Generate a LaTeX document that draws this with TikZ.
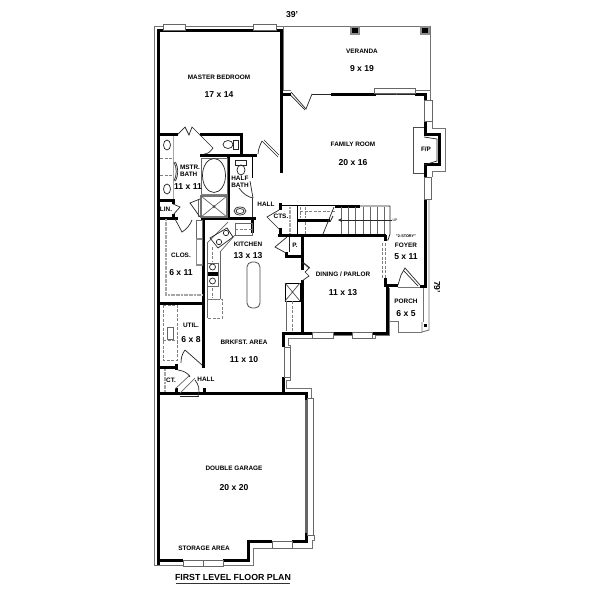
\documentclass[tikz,border=0pt]{standalone}
\usepackage{fontspec}
\setmainfont{Liberation Sans}
\begin{document}
\begin{tikzpicture}[x=1pt,y=-1pt,line join=miter,
  wall/.style={line width=3pt,black,line cap=butt},
  ext/.style={line width=0.9pt,black!55},
  thin/.style={line width=0.7pt,black!85},
  fix/.style={line width=0.7pt,black!60},
  dsh/.style={line width=0.8pt,black!50,dash pattern=on 3pt off 1.5pt},
  gdsh/.style={line width=1.6pt,black!35,dash pattern=on 2pt off 0.6pt},
  win/.style={draw=black!60,line width=0.8pt,fill=white},
  lab/.style={font=\bfseries\fontsize{6.4}{7}\selectfont,inner sep=0pt,align=center,black},
  dim/.style={font=\bfseries\fontsize{8.6}{10}\selectfont,inner sep=0pt,black}]
\useasboundingbox (0,0) rectangle (600,600);
\fill[white] (0,0) rectangle (600,600);
% exterior gray outline
\draw[ext] (183,565) -- (154,565) -- (154,26) -- (430,26) -- (430,100);
\draw[ext] (283.5,27) -- (283.5,90) -- (291,90);
\draw[ext] (415,90) -- (430,90);
\draw[ext] (432,121) -- (432,128) -- (445,128) -- (445,171) -- (432,171) -- (432,177);
\draw[ext] (431,199) -- (429,199) -- (429,330) -- (422,332) -- (422,322);
\draw[ext] (223,565) -- (253,565) -- (253,548) -- (272,548);
\draw[ext] (292,548) -- (312,548) -- (312,540) -- (314,540) -- (314,535);
\draw[ext] (306,398) -- (311,398) -- (311,388) -- (286,388) -- (286,380) -- (290,380) -- (290,345) -- (288,345) -- (288,338) -- (312,338);
\draw[ext] (333,338) -- (333,335) -- (352,335) -- (352,338);
\draw[ext] (372,338) -- (375,338) -- (375,335) -- (389,335) -- (389,321) -- (398,321) -- (398,332) -- (422,332);
\draw[ext] (389,321) -- (389,288);
\draw[ext] (398,287) -- (423,287) -- (423,322);
\fill[black] (424,323.5) rectangle (427,326.5);
% veranda columns
\foreach \cx in {355,425}{\fill[black!45] (\cx-5,26) rectangle (\cx+5,35);\fill[black] (\cx-3,28) rectangle (\cx+3,33);}
% main walls
\draw[wall] (158,565) -- (158,30) -- (281,30) -- (281,173);
\draw[wall] (281,94) -- (291,94);
\draw[thin] (312,94) -- (331,94);
\draw[wall] (331,94) -- (376,94);
\draw[thin] (376,94) -- (416,94);
\draw[wall] (415,94) -- (425,94) -- (425,100);
\draw[wall] (425,121) -- (425,134) -- (439.5,134) -- (439.5,164.5) -- (425,164.5) -- (425,177);
\draw[wall] (425,199) -- (425,286.5) -- (420,286.5);
\draw[wall] (398,285) -- (385.5,285) -- (385.5,278);
\draw[wall] (387,285) -- (387,333.5) -- (372,333.5);
\draw[wall] (302,236) -- (302,270);
\draw[wall] (302,280) -- (302,333.5);
\draw[wall] (282,333.5) -- (312,333.5);
\draw[wall] (333,333.5) -- (352,333.5);
\draw[wall] (283.5,332) -- (283.5,347);
\draw[wall] (283.5,377) -- (283.5,393);
\draw[wall] (158,393) -- (306,393) -- (306,400);
\draw[line width=2pt,black!60] (306,400) -- (306,533);
\draw[wall] (306,533) -- (306,541.5) -- (292,541.5);
\draw[wall] (272,541.5) -- (248,541.5) -- (248,560) -- (223,560);
\draw[wall] (183,560) -- (158,560);
% windows
\draw[win] (163,24) rectangle (185,30);
\draw[win] (253,24) rectangle (276,30);
\draw[win] (374,88) rectangle (415,93);
\draw[fix] (396,93) -- (396,95);
\draw[win] (424,100) rectangle (432,121);
\draw[win] (424,177) rectangle (431,199);
\draw[win] (312,332) rectangle (333,338);
\draw[win] (352,332) rectangle (372,338);
\draw[win] (284,347) rectangle (290,377);
\draw[win] (307,398) rectangle (313,535);
\draw[win] (272,541) rectangle (292,548);
\draw[win] (183,560) rectangle (223,566);
\draw[fix] (203,560) -- (203,566);
% family door at veranda
\draw[thin] (291,92) -- (306,109) -- (312,94);
\draw[thin] (291,95.5) -- (305,110);
% fireplace
\draw[thin,black!70] (424,127) -- (413,127) -- (413,173) -- (424,173);
\draw[thin] (424,137) -- (437,139) -- (437,161) -- (424,165);
% bath partitions
\draw[wall] (158,134) -- (178,134);
\draw[wall] (200,134) -- (243,134);
\draw[wall] (241.5,134) -- (241.5,156);
\draw[wall] (200,155.5) -- (257,155.5);
\draw[wall] (228,155.5) -- (228,219);
\draw[line width=1.5pt] (252.5,157) -- (252.5,178);
\draw[line width=1.2pt,black!80] (252.5,198) -- (252.5,218);
\draw[wall] (252.5,217) -- (252.5,233);
\draw[wall] (158,200) -- (173,200) -- (173,204);
\draw[wall] (173,214) -- (173,219);
\draw[wall] (158,218) -- (178,218);
\draw[wall] (201,218) -- (256,218);
\draw[wall] (203.5,218) -- (203.5,368);
\draw[wall] (158,303) -- (205,303);
\draw[wall] (158,367) -- (178,367);
\draw[wall] (176.5,364) -- (176.5,370);
\draw[wall] (176.5,388) -- (176.5,393);
\draw[wall] (204,388) -- (204,393);
% hall / stairs walls
\draw[wall] (280.5,203) -- (280.5,210);
\draw[wall] (280.5,228) -- (280.5,235);
\draw[line width=1.2pt] (280,205.5) -- (335,205.5);
\draw[line width=1.6pt] (297.5,206) -- (297.5,234);
\draw[wall] (335,206) -- (360,206);
\draw[wall] (297,220) -- (330,220);
\draw[wall] (278,235.5) -- (385.5,235.5);
\draw[wall] (385.5,235) -- (385.5,241);
\draw[wall] (302,236) -- (302,256.5) -- (286,256.5) -- (286,252);
\draw[thin] (360,206) -- (390,206) -- (390,234) -- (388,240) -- (387,240);
\draw[thin] (289,237) -- (289,252);
\draw[gdsh] (290,207) -- (290,234);
% closets / pantry door-like swings
\draw[thin] (279,210) -- (267,217) -- (280,230);
\draw[thin] (287,237) -- (275,247) -- (286,253);
% stairs
\foreach \sx in {341,348.3,...,390}{\draw[fix] (\sx,207) -- (\sx,234);}
\foreach \sx in {300,305}{\draw[dsh] (\sx,207) -- (\sx,218);}
\draw[dsh] (300,211) -- (335,211);
\draw[dsh] (305,222) -- (305,234);
\draw[thin] (334,207) -- (323,234);
\draw[thin,-stealth] (392,220) -- (338,220);
\draw[thin] (333,216) -- (330,222);
\node[lab,font=\fontsize{3.6}{4}\selectfont] (upl) at (395,220) {UP};
% dashed foyer wall
\draw[dsh] (382,243) -- (382,278);
\draw[dsh] (385.5,243) -- (385.5,278);
% foyer door
\draw[thin] (398,285) -- (401,275) -- (405,268) -- (420,285);
\draw[thin] (404,271) -- (418,286);
% dining door
\draw[thin] (302,262) -- (309,268) -- (305,272) -- (309,276) -- (302,281);
\draw[thin] (304,263) -- (310,268);
% dining side box
\draw[line width=1pt,black] (285,283) rectangle (300,301);
\draw[thin,black!70] (285,283) -- (300,301) (300,283) -- (285,301);
\draw[dsh] (292,301) -- (292,331);
\draw[fix] (286,301) -- (286,331);
% bifold door, master bedroom door
\draw[thin] (178,134) -- (185,127) -- (189,135) -- (192,127) -- (200,135);
\draw[thin] (200,135) -- (213,148) .. controls (210,152) and (208,154) .. (204,154);
\draw[thin] (262,141) -- (278,157);
\draw[thin] (258,154) .. controls (258,150) and (260,145) .. (262,141);
\draw[thin] (264,140) -- (279,155);
% master bath fixtures
\draw[dsh] (160,158) -- (173,158);
\draw[dsh] (160,175) -- (173,175);
\draw[line width=0.5pt,black!35] (173,136) -- (173,199);
\draw[thin] (167,145) ellipse (3.5 and 5);
\draw[thin] (167,189) ellipse (3.5 and 5);
\draw[thin] (174,162) .. controls (177,168) and (177,175) .. (174,181);
\draw[thin] (175.5,162) .. controls (178.5,168) and (178.5,175) .. (175.5,181);
\draw[fix] (201,158) rectangle (227,194);
\draw[line width=1.4pt,black!50] (201,194.5) -- (227,194.5);
\draw[thin] (214,175.5) ellipse (11.5 and 17);
\draw[thin] (228,144.5) ellipse (5 and 4);
\draw[thin] (233,140) rectangle (238,149);
% shower
\draw[line width=1.4pt,black!55] (201,196) rectangle (227,217);
\draw[fix] (201,196) -- (227,217) (227,196) -- (201,217);
\fill[black!70] (214,206.5) circle (1.5);
\draw[fix] (198,199) -- (198,217);
\draw[thin] (200,199) -- (190,203) -- (200,217);
% half bath fixtures
\draw[thin] (235,160) rectangle (246,165);
\draw[thin] (241,170) ellipse (4 and 5);
\draw[thin] (240,211) ellipse (6 and 4);
\draw[thin] (240,211) ellipse (4 and 2.5);
\draw[thin] (239,188) .. controls (243,194) and (248,197) .. (253,198);
\draw[thin] (253,198) -- (250,181);
% linen door
\draw[thin] (173,204) -- (180,207) -- (173,215);
% door below bath
\draw[thin] (175,219) -- (182,232) .. controls (187,229) and (190,225) .. (192,220);
% closet
\draw[gdsh] (166,219) -- (166,295) -- (202,295);
\draw[fix] (196,220) rectangle (202,265);
\draw[line width=1.4pt,black!45] (202,239) -- (196.5,239) -- (196.5,265) -- (202,265);
% kitchen counters
\draw[fix] (207,243) -- (228,222);
\draw[fix] (207,243) -- (207,318);
\draw[fix] (220,252) -- (235,235);
\draw[fix] (220,252) -- (220,299);
\draw[fix] (207,299) -- (220,299);
\draw[dsh] (212,247) -- (212,262);
\draw[dsh] (212,288) -- (212,298);
\draw[fix] (235,223) rectangle (252,235);
\draw[dsh] (235,229) -- (252,229);
\draw[thin] (210,238) -- (227,228) -- (233,237) -- (218,248) -- cycle;
\draw[thin] (226,233) circle (2.7) (219,242) circle (2.7);
\draw[fix] (207,263) rectangle (218,286);
\fill[black] (207.5,272) rectangle (218,276);
\draw[thin] (212.5,267) circle (3) (212.5,281) circle (3);
\draw[dsh] (207,299) -- (222,299) -- (222,318) -- (207,318);
\draw[line width=0.8pt,black!70,rounded corners=5pt] (247,262) rectangle (260,308);
% util fixtures
\draw[dsh] (163,305) rectangle (177,360);
\draw[dsh] (163,340) -- (177,340);
\draw[fix] (167,327) rectangle (173,339);
% lower hall door
\draw[thin] (185,350) -- (202,365);
\draw[thin] (185,350) .. controls (182,354) and (181,358) .. (181,363);
\draw[fix] (175,389) -- (190,375) (180,393) -- (195,378);
\draw[thin] (178,370) .. controls (184,371) and (188,373) .. (190,377);
\draw[thin] (195,380) .. controls (199,385) and (200,390) .. (198,396);
\draw[thin] (180,396) -- (199,396);
\draw[gdsh] (165,369) -- (165,392);
% labels
\node[lab] (t1) at (219,77) {MASTER BEDROOM};
\node[dim] (t2) at (219,95) {17 x 14};
\node[lab] (t3) at (362,51) {VERANDA};
\node[dim] (t4) at (362,69) {9 x 19};
\node[lab] (t5) at (353,144) {FAMILY ROOM};
\node[dim] (t6) at (353,163) {20 x 16};
\node[lab] (t7) at (426,149) {F/P};
\node[lab,align=left] (t8) at (190,171) {MSTR.\\[-0.5pt]BATH};
\node[dim] (t9) at (188,187) {11 x 11};
\node[lab,align=left] (t10) at (240,182) {HALF\\[-0.5pt]BATH};
\node[lab] (t11) at (266,204) {HALL};
\node[lab] (t12) at (281,216) {CTS.};
\node[lab] (t13) at (295,245) {P.};
\node[lab] (t14) at (248,244) {KITCHEN};
\node[dim] (t15) at (248,256) {13 x 13};
\node[lab] (t16) at (181,255) {CLOS.};
\node[dim] (t17) at (181,273) {6 x 11};
\node[lab] (t18) at (166,209) {LIN.};
\node[lab] (t19) at (343,274) {DINING / PARLOR};
\node[dim] (t20) at (343,293) {11 x 13};
\node[lab,font=\bfseries\fontsize{3.8}{4}\selectfont] (t21) at (406,236) {"2-STORY"};
\node[lab] (t22) at (406,245) {FOYER};
\node[dim] (t23) at (406,257) {5 x 11};
\node[lab] (t24) at (406,301) {PORCH};
\node[dim] (t25) at (406,314) {6 x 5};
\node[lab] (t26) at (191,325) {UTIL.};
\node[dim] (t27) at (191,340) {6 x 8};
\node[lab] (t28) at (244,342) {BRKFST. AREA};
\node[dim] (t29) at (244,360) {11 x 10};
\node[lab] (t30) at (171,380) {CT.};
\node[lab] (t31) at (206,379) {HALL};
\node[lab] (t32) at (234,468) {DOUBLE GARAGE};
\node[dim] (t33) at (234,488) {20 x 20};
\node[lab] (t34) at (204,548) {STORAGE AREA};
\node[dim] (t35) at (292,15) {39'};
\node[dim,rotate=-90] (t36) at (437,287) {79'};
\node[font=\bfseries\fontsize{8.8}{10}\selectfont,inner sep=0pt] (t37) at (233,577) {FIRST LEVEL FLOOR PLAN};
\draw[line width=0.9pt,black!80] (176,583) -- (290,583);
\end{tikzpicture}
\end{document}
